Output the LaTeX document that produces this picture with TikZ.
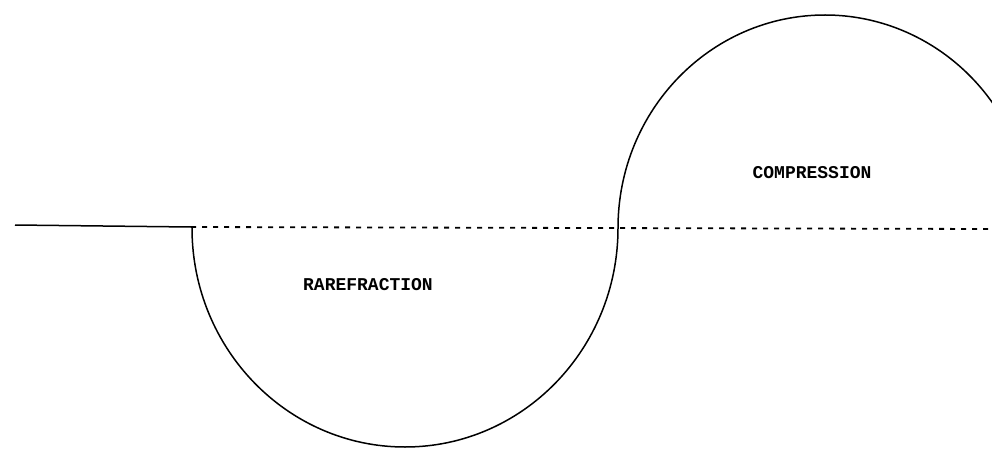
\documentclass[tikz,border=0pt]{standalone}
\usepackage{fontspec}
\newfontfamily\labfont{Liberation Mono}
\begin{document}
\begin{tikzpicture}[x=1pt,y=-1pt,
  curve/.style={line width=1.5pt,black},
  axisline/.style={line width=1.5pt,black},
  dashaxis/.style={line width=1.8pt,black,dash pattern=on 5pt off 6pt},
  lab/.style={font=\labfont\bfseries\fontsize{18}{18}\selectfont,inner sep=0pt}]
\useasboundingbox (0,0) rectangle (992,449);
\clip (0,0) rectangle (992,449);
\coordinate (S) at (15,225);
\coordinate (A) at (191,227);
\coordinate (E) at (992,229);
\coordinate (L) at (192,228);
\coordinate (M) at (618,228);
\draw[axisline] (S) -- (A);
\draw[dashaxis] (A) -- (E);
\draw[curve] (L) arc[start angle=180, end angle=0, x radius=213, y radius=219];
\draw[curve] (M) arc[start angle=180, end angle=330, x radius=207, y radius=213];
\node[lab] (rare) at (368,285) {RAREFRACTION};
\node[lab] (comp) at (812,173) {COMPRESSION};
\end{tikzpicture}
\end{document}
